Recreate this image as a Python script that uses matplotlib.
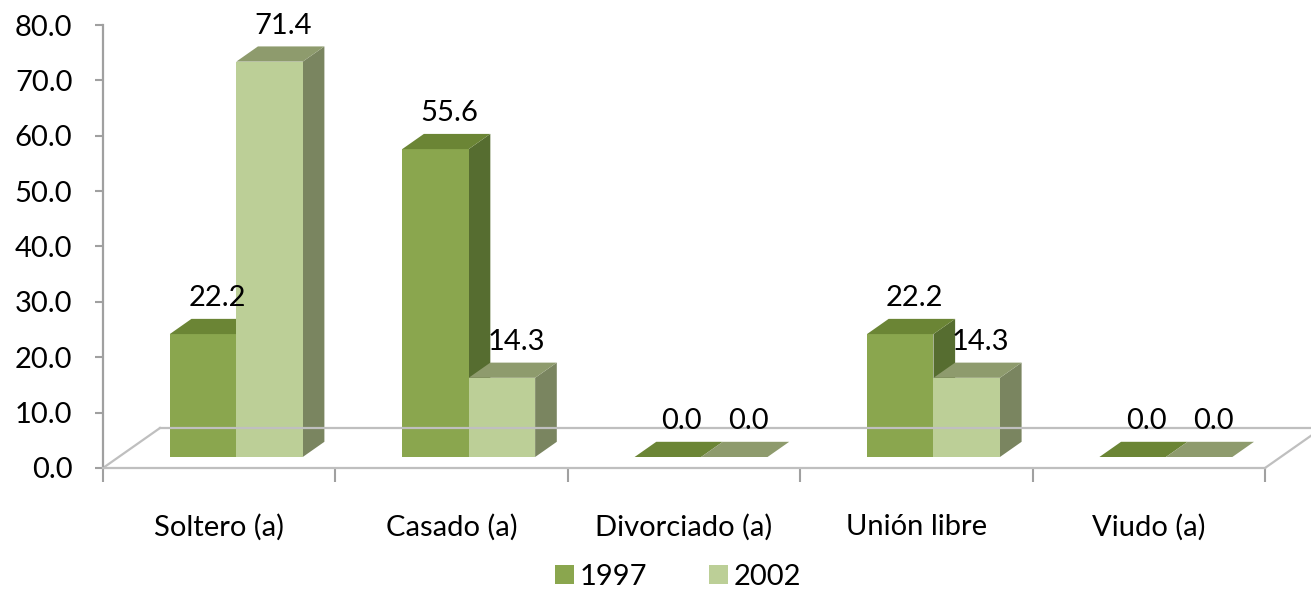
import matplotlib
matplotlib.use("Agg")
import matplotlib.pyplot as plt
from matplotlib.patches import Polygon, Patch

# datos
categorias = ["Soltero (a)", "Casado (a)", "Divorciado (a)", "Unión libre", "Viudo (a)"]
anios = ["1997", "2002"]
v1997 = [22.2, 55.6, 0.0, 22.2, 0.0]
v2002 = [71.4, 14.3, 0.0, 14.3, 0.0]

# colores: frente, tapa, lado
col_frente = ["#8aa64e", "#bccf97"]
col_tapa = ["#6b8535", "#8e9b6d"]
col_lado = ["#566d30", "#7a8560"]

plt.rcParams['font.family'] = ['Lato', 'DejaVu Sans']
fs = 21

fig = plt.figure(figsize=(13.11, 5.90), dpi=100)
W, H = 1311, 590
ax = fig.add_axes([103 / W, 122 / H, 1162 / W, 443 / H])
ax.set_xlim(0, 5)
ax.set_ylim(0, 80)

# pixeles por unidad de datos
sx = 1162 / 5
sy = 443 / 80

# profundidad del piso (px)
prof_x, prof_y = 57 / sx, 40 / sy
d_frente, d_fondo = 0.275, 0.655
ancho = 0.286
inicio = 0.22

gris = "#bfbfbf"
# piso
ax.plot([0 + prof_x, 5 + prof_x + 0.3], [prof_y, prof_y], color=gris, lw=1.6, clip_on=False)
ax.plot([0, prof_x], [0, prof_y], color=gris, lw=1.6, clip_on=False)
ax.plot([5, 5 + prof_x], [0, prof_y], color=gris, lw=1.6, clip_on=False)

series = [v1997, v2002]
for i in range(len(categorias)):
    for j, vals in enumerate(series):
        v = vals[i]
        x0 = i + inicio + j * ancho + d_frente * prof_x
        x1 = x0 + ancho
        y0 = d_frente * prof_y
        y1 = y0 + v
        dx = (d_fondo - d_frente) * prof_x
        dy = (d_fondo - d_frente) * prof_y
        frente = Polygon([(x0, y0), (x1, y0), (x1, y1), (x0, y1)],
                         closed=True, fc=col_frente[j], ec='none', clip_on=False)
        lado = Polygon([(x1, y0), (x1 + dx, y0 + dy), (x1 + dx, y1 + dy), (x1, y1)],
                       closed=True, fc=col_lado[j], ec='none', clip_on=False)
        tapa = Polygon([(x0, y1), (x1, y1), (x1 + dx, y1 + dy), (x0 + dx, y1 + dy)],
                       closed=True, fc=col_tapa[j], ec='none', clip_on=False)
        ax.add_patch(lado)
        ax.add_patch(frente)
        ax.add_patch(tapa)
        ax.text((x0 + x1) / 2 + 14 / sx, y1 + 36 / sy, "%.1f" % v,
                ha='center', va='center', fontsize=fs, color='black')

# ejes
for s in ['top', 'right']:
    ax.spines[s].set_visible(False)
ax.spines['left'].set_color("#a0a0a0")
ax.spines['left'].set_linewidth(1.6)
ax.spines['bottom'].set_color(gris)
ax.spines['bottom'].set_linewidth(1.6)

ax.set_yticks(range(0, 81, 10))
ax.set_yticklabels(["%.1f" % t for t in range(0, 81, 10)], fontsize=fs)
ax.tick_params(axis='y', length=6, width=1.5, color="#a0a0a0", pad=16)

ax.set_xticks(range(6))
ax.set_xticklabels([])
ax.tick_params(axis='x', which='major', length=10, width=1.5, color="#a0a0a0")
ax.set_xticks([i + 0.5 for i in range(5)], minor=True)
ax.set_xticklabels(categorias, minor=True, fontsize=fs)
ax.tick_params(axis='x', which='minor', length=0, pad=33)

ax.set_facecolor('none')

handles = [Patch(fc=col_frente[0], ec='none'), Patch(fc=col_frente[1], ec='none')]
fig.legend(handles, anios, loc='center', bbox_to_anchor=(678 / W, 1 - 577 / H),
           ncol=2, frameon=False, fontsize=fs, handlelength=0.65, handleheight=0.65,
           handletextpad=0.2, columnspacing=2.1, borderpad=0)

fig.savefig("out.png", dpi=100)
